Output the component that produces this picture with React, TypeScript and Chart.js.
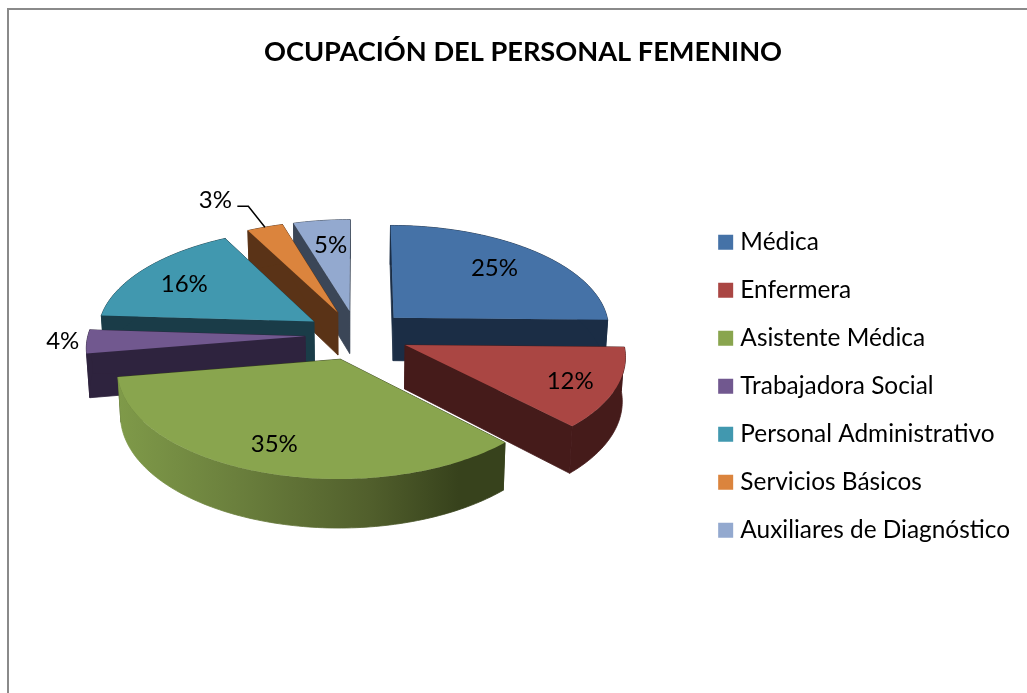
import React, { useEffect, useRef } from "react";
import { Chart, registerables } from "chart.js";

Chart.register(...registerables);

const titleText = "OCUPACIÓN DEL PERSONAL FEMENINO";
const categories = ["Médica", "Enfermera", "Asistente Médica", "Trabajadora Social", "Personal Administrativo", "Servicios Básicos", "Auxiliares de Diagnóstico"];
const shares = [25.4, 12.45, 34.8, 3.6, 16.4, 3, 4.7];
const topColors = ["#4572a7", "#aa4643", "#89a54e", "#71588f", "#4198af", "#db843d", "#93a9cf"];
const wallColors = ["#1b2d45", "#451b1a", "#37421c", "#2e233e", "#1a3c48", "#5a3317", "#3b4657"];
const greenWallStops: [number, string][] = [[0, "#7f9a49"], [0.3, "#6b803d"], [0.65, "#515f2c"], [0.88, "#37421c"], [1, "#37421c"]];
const labelPolar: [number, number][] = [[0.68, 0], [0.82, 3], [0.83, 3], [1.09, 2], [0.69, 0], [1.23, -4], [0.62, 0]];
const labelNudges: [number, number][] = [[3, -4], [-3, -4], [7, -5], [-5, 3], [-11, -1], [-19, -12], [-1, -8]];

const CX = 357, CY = 335, K = 0.479, D = 2345, DEPTH = 43.5, SHRINK = 0.988;
const FONT = "Lato";

function project(X: number, Y: number, low: boolean) {
  const s = 1 / (1 - Y / D);
  let x = CX + X * s;
  let y = CY + K * Y * s;
  if (low) {
    x = CX + (x - CX) * SHRINK;
    y += DEPTH * s;
  }
  return { x, y };
}

function pathOf(ctx: CanvasRenderingContext2D, pts: { x: number; y: number }[]) {
  ctx.beginPath();
  pts.forEach((p, i) => (i ? ctx.lineTo(p.x, p.y) : ctx.moveTo(p.x, p.y)));
  ctx.closePath();
}

const pie3d = {
  id: "pie3d",
  beforeDatasetsDraw(chart: any) {
    const ctx: CanvasRenderingContext2D = chart.ctx;
    const arcs = chart.getDatasetMeta(0).data as any[];
    const order = arcs
      .map((a, i) => ({ a, i, mid: (a.startAngle + a.endAngle) / 2 }))
      .sort((p, q) => Math.sin(p.mid) - Math.sin(q.mid));
    ctx.save();
    for (const { a, i, mid } of order) {
      const off = a.options.offset;
      const ox = Math.cos(mid) * off;
      const oy = Math.sin(mid) * off;
      const R = a.outerRadius;
      const angles: number[] = [];
      const steps = Math.max(4, Math.ceil((a.endAngle - a.startAngle) / 0.02));
      for (let n = 0; n <= steps; n++) angles.push(a.startAngle + ((a.endAngle - a.startAngle) * n) / steps);
      const rim = (low: boolean) => angles.map((t) => project(ox + Math.cos(t) * R, oy + Math.sin(t) * R, low));
      const rimTop = rim(false);
      const rimLow = rim(true);
      const tipTop = project(ox, oy, false);
      const tipLow = project(ox, oy, true);
      ctx.fillStyle = wallColors[i];
      ctx.strokeStyle = wallColors[i];
      ctx.lineWidth = 0.8;
      pathOf(ctx, [tipTop, tipLow, rimLow[0], rimTop[0]]);
      ctx.fill();
      ctx.stroke();
      pathOf(ctx, [tipTop, tipLow, rimLow[steps], rimTop[steps]]);
      ctx.fill();
      ctx.stroke();
      let wall: any = wallColors[i];
      if (i === 2) {
        const xs = rimTop.map((p) => p.x);
        const g = ctx.createLinearGradient(Math.min(...xs), 0, Math.max(...xs), 0);
        greenWallStops.forEach(([s, c]) => g.addColorStop(s, c));
        wall = g;
      }
      ctx.fillStyle = wall;
      ctx.strokeStyle = wall;
      pathOf(ctx, [...rimTop, ...rimLow.slice().reverse()]);
      ctx.fill();
      ctx.stroke();
      ctx.fillStyle = a.options.backgroundColor;
      pathOf(ctx, [tipTop, ...rimTop]);
      ctx.fill();
    }
    // value labels and the leader line
    const total = shares.reduce((s, v) => s + v, 0);
    ctx.fillStyle = "#000";
    ctx.font = `24px ${FONT}`;
    ctx.textAlign = "center";
    ctx.textBaseline = "middle";
    arcs.forEach((a, i) => {
      const mid = (a.startAngle + a.endAngle) / 2;
      const off = a.options.offset;
      const ox = Math.cos(mid) * off;
      const oy = Math.sin(mid) * off;
      const [f, deg] = labelPolar[i];
      const t = mid + (deg * Math.PI) / 180;
      const q = project(ox + Math.cos(t) * a.outerRadius * f, oy + Math.sin(t) * a.outerRadius * f, false);
      const p = { x: q.x + labelNudges[i][0], y: q.y + labelNudges[i][1] };
      ctx.fillText(`${Math.round((shares[i] / total) * 100)}%`, p.x, p.y);
      if (f > 1.2) {
        const end = project(ox + Math.cos(mid) * a.outerRadius, oy + Math.sin(mid) * a.outerRadius, false);
        ctx.strokeStyle = "#000";
        ctx.lineWidth = 1.5;
        ctx.beginPath();
        ctx.moveTo(p.x + 22, p.y + 6);
        ctx.lineTo(p.x + 33, p.y + 6);
        ctx.lineTo(end.x, end.y);
        ctx.stroke();
      }
    });
    ctx.restore();
    return false;
  },
};

export default function App() {
  const ref = useRef<HTMLCanvasElement | null>(null);
  useEffect(() => {
    if (!ref.current) return;
    const chart = new Chart(ref.current, {
      type: "pie",
      data: {
        labels: categories,
        datasets: [{ data: shares, backgroundColor: topColors, borderWidth: 0, offset: 52, radius: 217 } as any],
      },
      plugins: [pie3d],
      options: {
        responsive: false,
        animation: false,
        layout: { padding: { left: 26, right: 7, top: 0, bottom: 0 } },
        plugins: {
          tooltip: { enabled: false },
          title: {
            display: true,
            text: titleText,
            color: "#000",
            font: { family: FONT, size: 27.2, weight: "bold" },
            padding: { top: 36, bottom: 11 },
          },
          legend: {
            position: "right",
            fullSize: false,
            labels: {
              color: "#000",
              usePointStyle: true,
              pointStyle: "rect",
              boxWidth: 5,
              boxHeight: 15,
              padding: 23.6,
              font: { family: FONT, size: 24.4 },
            },
          },
        },
      },
    } as any);
    return () => chart.destroy();
  }, []);
  return (
    <div style={{ position: "fixed", left: 0, top: 0, width: 1027, height: 693, background: "#fff", overflow: "hidden" }}>
      <div style={{ position: "absolute", left: 7, top: 8, width: 1040, height: 700, borderLeft: "2px solid #8a8a8a", borderTop: "2px solid #8a8a8a" }} />
      <canvas ref={ref} width={1027} height={693} style={{ position: "absolute", left: 0, top: 0, display: "block" }} />
    </div>
  );
}
